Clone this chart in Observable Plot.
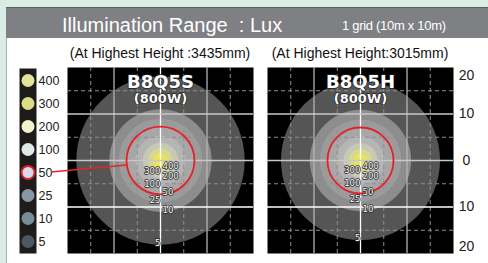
<!DOCTYPE html>
<html><head><meta charset="utf-8">
<script src="https://cdn.jsdelivr.net/npm/d3@7"></script>
<script src="https://cdn.jsdelivr.net/npm/@observablehq/plot@0.6"></script>
<style>
html,body{margin:0;padding:0;background:#d9ede5;}
#root{position:relative;width:488px;height:263px;overflow:hidden;font-family:"Liberation Sans",Arial,sans-serif;}
#bar{position:absolute;left:6px;top:7px;right:0;height:31px;background:#7f8084;border-top:1px solid #5e5f62;box-sizing:border-box;}
#sheet{position:absolute;left:6px;top:38px;right:0;bottom:0;background:#fff;border-left:1px solid #a3b3ab;}
.abs{position:absolute;}
.abs svg{overflow:visible;}
#overlay{position:absolute;left:0;top:0;z-index:5;pointer-events:none;}
</style></head>
<body><div id="root"><div id="bar"></div><div id="sheet"></div></div>
<script>
// ---- data ----
const levels = [400, 300, 200, 100, 50, 25, 10, 5];
const legendColors = ["#e3e39a", "#dcdc88", "#f3f3cb", "#e0e8e8", "#d3dde7", "#8797a1", "#798c99", "#4b5861"];
const ringColors = ["#e8e55a", "#d9d88c", "#c8c8b6", "#b5b5b5", "#a7a7a7", "#9b9b9b", "#8d8d8d", "#555555"];
const radiiS = [1.6, 2.6, 3.8, 5.4, 7.3, 9.0, 11.0, 18.1];
const radiiH = [1.5, 2.5, 3.7, 5.2, 7.1, 8.8, 10.9, 17.1];
const models = ["B8Q5S", "B8Q5H"];
const wattage = "(800W)";
const heights = ["(At Highest Height :3435mm)", "(At Highest Height:3015mm)"];
const axisTicks = [20, 10, 0, -10, -20];
const dashedGrid = [-15, -5, 5, 15];
const titleText = "Illumination Range  : Lux";
const gridText = "1 grid (10m x 10m)";

const root = document.getElementById("root");
const PW = 186, PH = 186;
const font = "Liberation Sans, Arial, sans-serif";
const boldFont = "DejaVu Sans, Liberation Sans, sans-serif";

function panel(model, radii, withAxis) {
  const rings = levels.map((lux, i) => ({lux, r: radii[i], color: ringColors[i], i})).reverse();
  const r50 = rings.filter(d => d.lux === 50);
  const labelStyle = {fontSize: 9.5, fontFamily: "DejaVu Sans Condensed, Liberation Sans, sans-serif",
    fill: "#fff", stroke: "#2a2a2a", strokeWidth: 1.6, paintOrder: "stroke", lineAnchor: "middle"};
  const marks = [
    Plot.frame({fill: "#000"}),
    Plot.dot(rings, {x: () => 0, y: () => 0, r: "r", fill: "color"}),
    Plot.ruleX(dashedGrid, {stroke: "#8f8f8f", strokeDasharray: "4,3"}),
    Plot.ruleY(dashedGrid, {stroke: "#8f8f8f", strokeDasharray: "4,3"}),
    Plot.ruleX([-10, 10], {stroke: "#b4b4b4", strokeWidth: 1.3}),
    Plot.ruleX([0], {stroke: "#ffffff", strokeWidth: 1.3}),
    Plot.ruleY([10, 0], {stroke: "#c8c8c8", strokeWidth: 1.3}),
    Plot.ruleY([-10], {stroke: "#ffffff", strokeWidth: 1.3}),
    Plot.dot(r50, {x: () => 0, y: () => 0, r: "r", fill: "none", stroke: "#e8202a", strokeWidth: 1.8}),
    Plot.text(rings, {filter: d => d.i % 2 === 0, x: () => 0, y: d => -d.r, text: d => String(d.lux), textAnchor: "start", dx: 2, dy: -2, ...labelStyle}),
    Plot.text(rings, {filter: d => d.i % 2 === 1, x: () => 0, y: d => -d.r, text: d => String(d.lux), textAnchor: "end", dx: 0, dy: -2, ...labelStyle}),
    Plot.text([model], {frameAnchor: "top", dy: 20, lineAnchor: "bottom", fontSize: 18, fontWeight: "bold", fill: "#fff", stroke: "#222", strokeWidth: 1.5, paintOrder: "stroke", fontFamily: boldFont}),
    Plot.text([wattage], {frameAnchor: "top", dy: 35, lineAnchor: "bottom", fontSize: 13, fontWeight: "bold", fill: "#fff", stroke: "#222", strokeWidth: 1.5, paintOrder: "stroke", fontFamily: boldFont})
  ];
  if (withAxis) {
    const ax = {y: d => d, text: d => String(Math.abs(d)), frameAnchor: "right", dx: 13, textAnchor: "middle", fontSize: 14, fill: "#222", fontFamily: font, lineAnchor: "middle"};
    marks.push(Plot.text(axisTicks.filter(t => Math.abs(t) < 20), ax));
    marks.push(Plot.text(axisTicks.filter(t => t === 20), {...ax, dy: 8}));
    marks.push(Plot.text(axisTicks.filter(t => t === -20), {...ax, dy: -7}));
  }
  return Plot.plot({
    width: PW + (withAxis ? 35 : 0), height: PH,
    marginTop: 0, marginBottom: 0, marginLeft: 0, marginRight: withAxis ? 35 : 0,
    x: {domain: [-20, 20], axis: null},
    y: {domain: [-20, 20], axis: null},
    r: {type: "linear", domain: [0, 20], range: [0, PW / 2]},
    color: {type: "identity"},
    style: {fontFamily: font, background: "transparent", overflow: "visible"},
    marks
  });
}

function place(el, left, top) {
  const d = document.createElement("div");
  d.className = "abs";
  d.style.left = left + "px";
  d.style.top = top + "px";
  d.appendChild(el);
  root.appendChild(d);
  return el;
}

const legendLeft = 19, legendTop = 68;
const legend = place(Plot.plot({
  width: 45, height: 185, margin: 0, marginRight: 28,
  x: {domain: [0, 1], axis: null},
  y: {type: "point", domain: levels, padding: 0.52, axis: null},
  color: {type: "identity"},
  style: {fontFamily: font, background: "transparent", overflow: "visible"},
  marks: [
    Plot.frame({fill: "#1e1b1b"}),
    Plot.dot(levels, {x: () => 0.5, y: d => d, r: 6.5, fill: (d, i) => legendColors[i], stroke: d => d === 50 ? "#e01f26" : "none", strokeWidth: 2}),
    Plot.text(levels, {x: () => 1, y: d => d, text: d => String(d), dx: 2, textAnchor: "start", fontSize: 12.5, fill: "#222", fontFamily: font})
  ]
}), legendLeft, legendTop);

const leftLeft = 67, panelTop = 67, rightLeft = 267;
const leftPlot = place(panel(models[0], radiiS, false), leftLeft, panelTop);
place(panel(models[1], radiiH, true), rightLeft, panelTop);

// overlay texts and connector
const svg = d3.select(root).append("svg").attr("id", "overlay").attr("width", 488).attr("height", 263);
svg.append("text").attr("x", 62).attr("y", 32).attr("fill", "#fff").attr("font-size", 20).attr("font-family", font).style("white-space", "pre").text(titleText);
svg.append("text").attr("x", 342).attr("y", 30).attr("fill", "#fff").attr("font-size", 13).attr("letter-spacing", -0.3).attr("font-family", font).text(gridText);
[leftLeft, rightLeft].forEach((l, i) => {
  svg.append("text").attr("x", l + PW / 2).attr("y", 58).attr("text-anchor", "middle").attr("fill", "#111").attr("font-size", 14).attr("font-family", font).text(heights[i]);
});
const lx = legend.scale("x"), ly = legend.scale("y");
const px = leftPlot.scale("x"), py = leftPlot.scale("y");
const r50 = radiiS[levels.indexOf(50)];
const ang = 8.5 * Math.PI / 180;
svg.append("line")
  .attr("x1", legendLeft + lx.apply(1) + 15).attr("y1", legendTop + ly.apply(50))
  .attr("x2", leftLeft + px.apply(-r50 * Math.cos(ang))).attr("y2", panelTop + py.apply(-r50 * Math.sin(ang)))
  .attr("stroke", "#e8202a").attr("stroke-width", 1.4);
</script></body></html>
